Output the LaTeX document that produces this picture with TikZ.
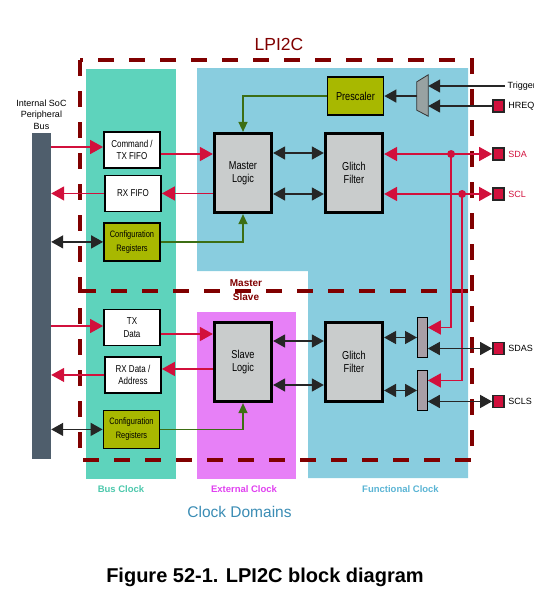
\documentclass[tikz,border=0pt]{standalone}
\usepackage{fontspec}
\setmainfont{Liberation Sans}
\newfontfamily\narrowsans[FakeStretch=0.8]{Liberation Sans}
\usetikzlibrary{arrows.meta,calc}

\definecolor{busclk}{HTML}{5ED3BC}
\definecolor{funclk}{HTML}{89CDDF}
\definecolor{extclk}{HTML}{E780F7}
\definecolor{cfggreen}{HTML}{A8B800}
\definecolor{logicgray}{HTML}{C9CCCC}
\definecolor{busgray}{HTML}{4F5E6C}
\definecolor{sigred}{HTML}{D2103C}
\definecolor{framered}{HTML}{800000}
\definecolor{wiregreen}{HTML}{3C6E14}
\definecolor{muxgray}{HTML}{98A2A2}
\definecolor{padgray}{HTML}{A89EA6}
\definecolor{busclktext}{HTML}{4CC8AC}
\definecolor{extclktext}{HTML}{E040F0}
\definecolor{funclktext}{HTML}{5AB4D4}
\definecolor{domaintext}{HTML}{3A8CB4}

\begin{document}
\begin{tikzpicture}[x=1pt, y=-1pt]
    \tikzstyle{buffer} = [rectangle, minimum width = 56pt, minimum height = 36pt, inner sep = 0pt, align = center, fill = white, draw = black, line width = 1.8pt, font = \narrowsans\fontsize{10}{12.5}\selectfont]
    \tikzstyle{config} = [buffer, fill = cfggreen, minimum height = 38pt, font = \narrowsans\fontsize{9.3}{14}\selectfont]
    \tikzstyle{logic} = [rectangle, minimum width = 57pt, minimum height = 79pt, inner sep = 0pt, align = center, fill = logicgray, draw = black, line width = 3.2pt, font = \narrowsans\fontsize{11.5}{13}\selectfont]
    \tikzstyle{padbar} = [rectangle, minimum width = 10pt, minimum height = 40pt, inner sep = 0pt, fill = padgray, draw = black, line width = 0.8pt]
    \tikzstyle{ioport} = [rectangle, minimum width = 11pt, minimum height = 12pt, inner sep = 0pt, fill = sigred, draw = black!85, line width = 1.8pt]
    \tikzstyle{redarrow} = [sigred, line width = 1.5pt, -{Triangle[length = 13pt, width = 14pt]}]
    \tikzstyle{redboth} = [redarrow, {Triangle[length = 13pt, width = 14pt]}-{Triangle[length = 13pt, width = 14pt]}]
    \tikzstyle{blkarrow} = [black!85, line width = 1.5pt, -{Triangle[length = 12pt, width = 13pt]}]
    \tikzstyle{blkboth} = [blkarrow, {Triangle[length = 12pt, width = 13pt]}-{Triangle[length = 12pt, width = 13pt]}]
    \tikzstyle{grnarrow} = [wiregreen, line width = 1.3pt, -{Triangle[length = 10pt, width = 9pt]}]
    \tikzstyle{lpframe} = [framered, line width = 3.5pt, dash pattern = on 16pt off 15pt]
    \tikzstyle{clklabel} = [font = \fontsize{9.5}{11}\selectfont\bfseries]
    \tikzstyle{pinlabel} = [font = \fontsize{9}{11}\selectfont]

    \useasboundingbox (0,0) rectangle (557,603);

    % clock domains
    \fill[busclk] (86,69) rectangle (176,479);
    \fill[funclk] (197,68) -- (468,68) -- (468,478) -- (308,478) -- (308,271) -- (197,271) -- cycle;
    \fill[extclk] (197,312) rectangle (296,479);

    % LPI2C border, master / slave split
    \draw[lpframe] (80,60) rectangle (472,460);
    \draw[lpframe] (80,291) -- (474,291);

    \node[framered, font = \fontsize{17.5}{20}\selectfont](TITLE) at (279,44.5){LPI2C};
    \node[framered, align = center, font = \fontsize{10}{14}\selectfont\bfseries](MSLBL) at (246,290){Master\\Slave};

    % peripheral bus
    \node[fill = busgray, minimum width = 19pt, minimum height = 326pt, inner sep = 0pt](BUS) at (41.5,296){};
    \node[above of = BUS, yshift = 153, align = center, font = \fontsize{9}{11.5}\selectfont](BUSLBL){Internal SoC\\Peripheral\\Bus};

    % master side
    \node[buffer](CMD) at (132,150){Command /\\TX FIFO};
    \node[buffer, below of = CMD, xshift = 1, yshift = -15](RXF){RX FIFO};
    \node[config, below of = RXF, xshift = -1, yshift = -20](CFG1){Configuration\\Registers};
    \node[logic](ML) at (243,173){Master\\Logic};
    \node[logic, right of = ML, xshift = 82.5](GF1){Glitch\\Filter};
    \node[config, above of = GF1, xshift = 1.5, yshift = 48.5, font = \narrowsans\fontsize{11.5}{13}\selectfont](PRE){Prescaler};

    % slave side
    \node[buffer](TXD) at (132,327.5){TX\\Data};
    \node[buffer, below of = TXD, xshift = 1, yshift = -19](RXD){RX Data /\\Address};
    \node[config, below of = RXD, xshift = -1.5, yshift = -26](CFG2){Configuration\\Registers};
    \node[logic](SL) at (243,362){Slave\\Logic};
    \node[logic, right of = SL, xshift = 82.5](GF2){Glitch\\Filter};
    \node[padbar, right of = GF2, xshift = 40, yshift = 24.5](PAD1){};
    \node[padbar, below of = PAD1, yshift = -24.5](PAD2){};

    % pins (the right edge of the page cuts the labels)
    \begin{scope}
    \clip (0,0) rectangle (533,603);
    \node[ioport, label = {[pinlabel, sigred]right:SDA}](SDA) at (498.5,154){};
    \node[ioport, below of = SDA, yshift = -11.5, label = {[pinlabel, sigred]right:SCL}](SCL){};
    \node[ioport, above of = SDA, yshift = 19.5, label = {[pinlabel]right:HREQ}](HREQ){};
    \node[ioport, label = {[pinlabel]right:SDAS}](SDAS) at (498.5,348.5){};
    \node[ioport, below of = SDAS, yshift = -24.5, label = {[pinlabel]right:SCLS}](SCLS){};
    \node[pinlabel, anchor = west, inner sep = 2.5pt](TRIG) at (505,86){Trigger};
    \end{scope}

    % trigger mux
    \node[minimum width = 11pt, minimum height = 41pt, inner sep = 0pt](MUX) at (422.5,95.5){};
    \draw[fill = muxgray, draw = black!80, line width = 0.8pt] (MUX.north east) -- (MUX.south east) -- ($(MUX.south west)+(0,-6)$) -- ($(MUX.north west)+(0,7)$) -- cycle;

    % clock labels
    \node[clklabel, busclktext](BUSCLK) at (121,489){Bus Clock};
    \node[clklabel, extclktext](EXTCLK) at (244,489){External Clock};
    \node[clklabel, funclktext](FUNCLK) at (400.5,489){Functional Clock};
    \node[domaintext, font = \fontsize{15.5}{18}\selectfont](DOMAINS) at (239.5,512){Clock Domains};
    \node[font = \fontsize{20}{24}\selectfont\bfseries](CAPTION) at (265,577){Figure 52-1. LPI2C block diagram};

    % bus to master
    \draw[redarrow] ($(BUS.east |- CMD.west)+(0,-3)$) -- ($(CMD.west)+(0,-3)$);
    \draw[redarrow] ($(CMD.east)+(0,4)$) -- ($(ML.west |- CMD.east)+(0,4)$);
    \draw[redarrow] (ML.west |- RXF.east) -- (RXF.east);
    \draw[redarrow] (RXF.west) -- (BUS.east |- RXF.west);
    \draw[blkboth] (BUS.east |- CFG1.west) -- (CFG1.west);
    \draw[grnarrow] (CFG1.east) -| (ML.south);
    \draw[grnarrow] (PRE.west) -| (ML.north);

    % bus to slave
    \draw[redarrow] ($(BUS.east |- TXD.west)+(0,-1.5)$) -- ($(TXD.west)+(0,-1.5)$);
    \draw[redarrow] ($(TXD.east)+(0,6.5)$) -- ($(SL.west |- TXD.east)+(0,6.5)$);
    \draw[redarrow] ($(SL.west |- RXD.east)+(0,-6)$) -- ($(RXD.east)+(0,-6)$);
    \draw[redarrow] (RXD.west) -- (BUS.east |- RXD.west);
    \draw[blkboth] (BUS.east |- CFG2.west) -- (CFG2.west);
    \draw[grnarrow] (CFG2.east) -| (SL.south);

    % logic to glitch filters
    \draw[blkboth] ($(ML.east)+(0,-20)$) -- ($(GF1.west |- ML.east)+(0,-20)$);
    \draw[blkboth] ($(ML.east)+(0,21)$) -- ($(GF1.west |- ML.east)+(0,21)$);
    \draw[blkboth] ($(SL.east)+(0,-21)$) -- ($(GF2.west |- SL.east)+(0,-21)$);
    \draw[blkboth] ($(SL.east)+(0,23)$) -- ($(GF2.west |- SL.east)+(0,23)$);

    % prescaler inputs
    \draw[blkarrow] (TRIG.west) -- (MUX.east |- TRIG.west);
    \draw[blkarrow] (HREQ.west) -- (MUX.east |- HREQ.west);
    \draw[blkarrow] (PRE.east -| MUX.west) -- (PRE.east);

    % master pins
    \draw[redboth] (GF1.east |- SDA.west) -- (SDA.west);
    \draw[redboth] (GF1.east |- SCL.west) -- (SCL.west);
    \coordinate (SDAtap) at ($(SDA.west)+(-41,0)$);
    \coordinate (SCLtap) at ($(SCL.west)+(-30,0)$);
    \draw[redarrow] (SDAtap) |- ($(PAD1.east)+(0,-10)$);
    \draw[redarrow] (SCLtap) |- ($(PAD2.east)+(0,-10)$);
    \fill[sigred] (SDAtap) circle (4pt);
    \fill[sigred] (SCLtap) circle (4pt);

    % slave pins
    \draw[blkboth] (GF2.east |- PAD1.west) -- (PAD1.west);
    \draw[blkboth] (GF2.east |- PAD2.west) -- (PAD2.west);
    \draw[blkboth] (PAD1.east |- SDAS.west) -- (SDAS.west);
    \draw[blkboth] (PAD2.east |- SCLS.west) -- (SCLS.west);

\end{tikzpicture}
\end{document}
